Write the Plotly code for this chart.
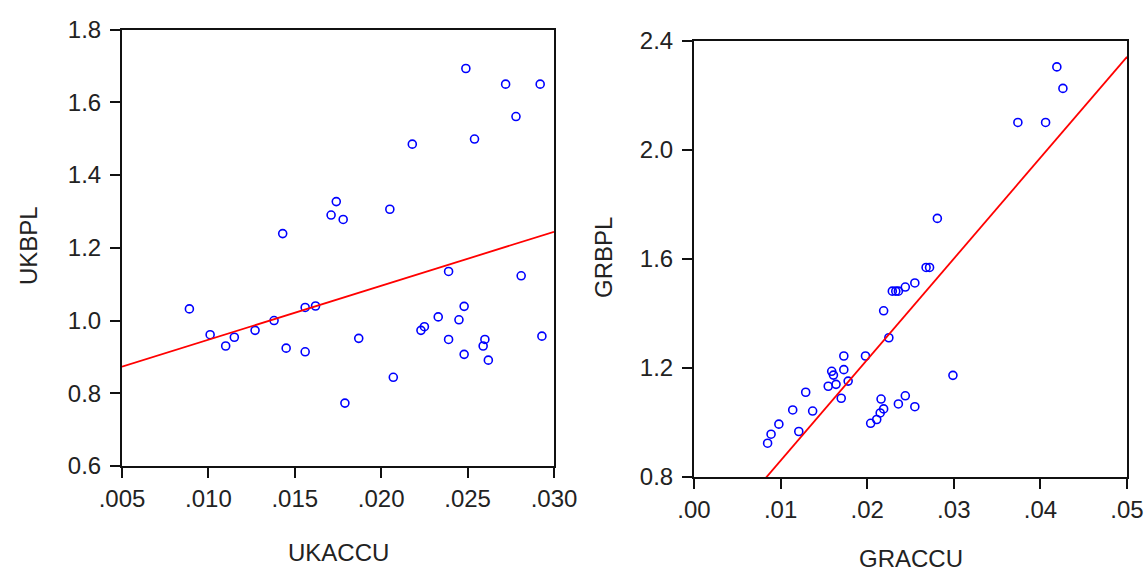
import plotly.graph_objects as go

# ---- data ----
uk_accu = [0.0249, 0.0272, 0.0292, 0.0278, 0.0254, 0.0218, 0.0174, 0.0171, 0.0178, 0.0205,
           0.0143, 0.0239, 0.0281, 0.0089, 0.0156, 0.0162, 0.0248, 0.0101, 0.0110, 0.0115,
           0.0127, 0.0138, 0.0145, 0.0156, 0.0187, 0.0179, 0.0207, 0.0223, 0.0225, 0.0233,
           0.0245, 0.0239, 0.0248, 0.0260, 0.0259, 0.0262, 0.0293]
uk_bpl = [1.693, 1.650, 1.650, 1.561, 1.499, 1.485, 1.327, 1.290, 1.278, 1.306,
          1.239, 1.135, 1.123, 1.032, 1.036, 1.040, 1.039, 0.961, 0.930, 0.954,
          0.973, 1.000, 0.924, 0.914, 0.951, 0.773, 0.844, 0.973, 0.983, 1.010,
          1.002, 0.948, 0.907, 0.948, 0.930, 0.891, 0.957]

gr_accu = [0.0419, 0.0426, 0.0374, 0.0406, 0.0281, 0.0268, 0.0272, 0.0229, 0.0233, 0.0236,
           0.0244, 0.0255, 0.0219, 0.0225, 0.0173, 0.0198, 0.0159, 0.0161, 0.0173, 0.0178,
           0.0155, 0.0164, 0.0170, 0.0129, 0.0114, 0.0137, 0.0098, 0.0089, 0.0085, 0.0121,
           0.0299, 0.0216, 0.0244, 0.0236, 0.0255, 0.0219, 0.0215, 0.0211, 0.0204]
gr_bpl = [2.305, 2.226, 2.101, 2.101, 1.749, 1.569, 1.569, 1.482, 1.482, 1.482,
          1.497, 1.512, 1.410, 1.311, 1.244, 1.244, 1.188, 1.174, 1.194, 1.152,
          1.133, 1.140, 1.089, 1.111, 1.046, 1.042, 0.994, 0.957, 0.924, 0.967,
          1.173, 1.086, 1.098, 1.068, 1.058, 1.050, 1.035, 1.011, 0.997]

uk_fit_x = [0.005, 0.030]
uk_fit_y = [0.873, 1.244]
gr_fit_x = [0.0083, 0.050]
gr_fit_y = [0.797, 2.342]

uk_xticks = [0.005, 0.010, 0.015, 0.020, 0.025, 0.030]
uk_xtext = [".005", ".010", ".015", ".020", ".025", ".030"]
uk_yticks = [0.6, 0.8, 1.0, 1.2, 1.4, 1.6, 1.8]
uk_ytext = ["0.6", "0.8", "1.0", "1.2", "1.4", "1.6", "1.8"]
gr_xticks = [0.00, 0.01, 0.02, 0.03, 0.04, 0.05]
gr_xtext = [".00", ".01", ".02", ".03", ".04", ".05"]
gr_yticks = [0.8, 1.2, 1.6, 2.0, 2.4]
gr_ytext = ["0.8", "1.2", "1.6", "2.0", "2.4"]

W, H = 1145, 574
FONT = "Arial, 'Liberation Sans', sans-serif"
TXT = "#222222"

marker = dict(symbol="circle-open", size=8, color="#0000FF", line=dict(width=1.6, color="#0000FF"))
line = dict(color="#FF0000", width=1.8)

fig = go.Figure()
fig.add_trace(go.Scatter(x=uk_accu, y=uk_bpl, mode="markers", marker=marker,
                         xaxis="x", yaxis="y", showlegend=False))
fig.add_trace(go.Scatter(x=uk_fit_x, y=uk_fit_y, mode="lines", line=line,
                         xaxis="x", yaxis="y", showlegend=False))
fig.add_trace(go.Scatter(x=gr_accu, y=gr_bpl, mode="markers", marker=marker,
                         xaxis="x2", yaxis="y2", showlegend=False))
fig.add_trace(go.Scatter(x=gr_fit_x, y=gr_fit_y, mode="lines", line=line,
                         xaxis="x2", yaxis="y2", showlegend=False))

axis_common = dict(showline=True, mirror=True, linecolor="#111111", linewidth=2,
                   ticks="outside", ticklen=10, tickwidth=2, tickcolor="#111111",
                   showgrid=False, zeroline=False, automargin=False,
                   tickfont=dict(family=FONT, size=24, color=TXT))

def px_x(a, b):
    return [a / W, b / W]

def px_y(top, bottom):
    return [(H - bottom) / H, (H - top) / H]

def label(text, x, y, angle=0):
    return dict(text=text, x=x / W, y=(H - y) / H, xref="paper", yref="paper",
                showarrow=False, textangle=angle,
                font=dict(family=FONT, size=24, color=TXT),
                xanchor="center", yanchor="middle")

fig.update_layout(
    width=W, height=H,
    margin=dict(l=0, r=0, t=0, b=0, autoexpand=False),
    paper_bgcolor="white", plot_bgcolor="white",
    xaxis=dict(axis_common, domain=px_x(122, 554), range=[0.005, 0.030],
               tickmode="array", tickvals=uk_xticks, ticktext=uk_xtext,
               anchor="y", ticklabelstandoff=0),
    yaxis=dict(axis_common, domain=px_y(29.6, 466), range=[0.6, 1.8],
               tickmode="array", tickvals=uk_yticks, ticktext=uk_ytext,
               anchor="x", ticklabelstandoff=4),
    xaxis2=dict(axis_common, domain=px_x(694, 1127), range=[0.0, 0.05],
                tickmode="array", tickvals=gr_xticks, ticktext=gr_xtext,
                anchor="y2", ticklabelstandoff=0),
    yaxis2=dict(axis_common, domain=px_y(41, 477), range=[0.8, 2.4],
                tickmode="array", tickvals=gr_yticks, ticktext=gr_ytext,
                anchor="x2", ticklabelstandoff=4),
    annotations=[
        label("UKACCU", 338, 552),
        label("UKBPL", 28, 246, -90),
        label("GRACCU", 911, 558),
        label("GRBPL", 603, 258, -90),
    ],
)

fig.write_html("out.html")
